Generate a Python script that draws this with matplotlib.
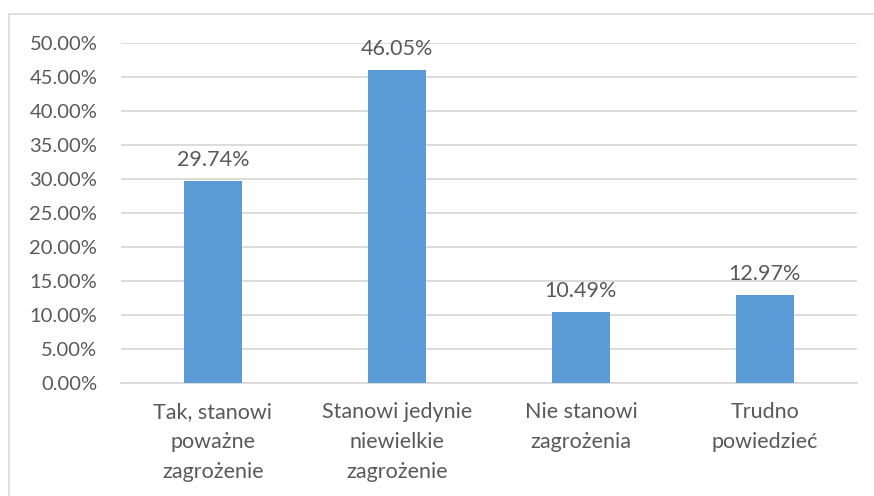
import matplotlib.pyplot as plt
from matplotlib.patches import Rectangle
from matplotlib.ticker import FuncFormatter, MultipleLocator

categories = [
    "Tak, stanowi\npoważne\nzagrożenie",
    "Stanowi jedynie\nniewielkie\nzagrożenie",
    "Nie stanowi\nzagrożenia",
    "Trudno\npowiedzieć",
]
values = [29.74, 46.05, 10.49, 12.97]

plt.rcParams['font.family'] = ['Lato', 'DejaVu Sans']
text_color = '#595959'
bar_color = '#5B9BD5'
grid_color = '#D9D9D9'

fig = plt.figure(figsize=(8.74, 4.96), dpi=100)
ax = fig.add_axes([0.1384, 0.2278, 0.8421, 0.6855])

# chart frame
fig.patches.append(Rectangle((9 / 874, -0.1), 1.2, 1 - 14 / 496 + 0.1,
                             transform=fig.transFigure, fill=False,
                             edgecolor=grid_color, linewidth=1.2))

x = range(len(categories))
bars = ax.bar(x, values, width=0.315, color=bar_color, zorder=3)
for rect, v in zip(bars, values):
    ax.annotate('{:.2f}%'.format(v), (rect.get_x() + rect.get_width() / 2, v),
                xytext=(0, 8), textcoords='offset points',
                ha='center', va='bottom', fontsize=15.5, color=text_color)

ax.set_xlim(-0.5, len(categories) - 0.5)
ax.set_ylim(0, 50)
ax.yaxis.set_major_locator(MultipleLocator(5))
ax.yaxis.set_major_formatter(FuncFormatter(lambda v, _: '{:.2f}%'.format(v)))
ax.set_xticks(list(x))
ax.set_xticklabels(categories, linespacing=1.6, fontsize=15.5)
ax.tick_params(axis='both', length=0, labelcolor=text_color)
ax.tick_params(axis='x', pad=14)
ax.tick_params(axis='y', pad=17, labelsize=14.5)
ax.grid(axis='y', color=grid_color, linewidth=1.3, zorder=0)
for s in ['top', 'right', 'left']:
    ax.spines[s].set_visible(False)
ax.spines['bottom'].set_color(grid_color)
ax.spines['bottom'].set_linewidth(1.3)

fig.savefig('out.png', dpi=100)
